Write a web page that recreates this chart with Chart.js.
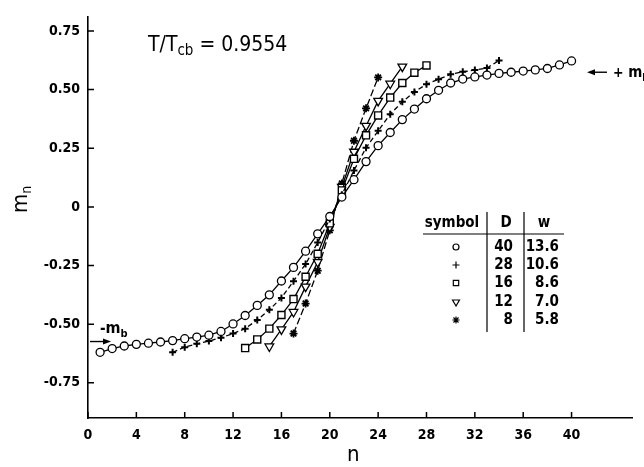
<!DOCTYPE html>
<html>
<head>
<meta charset="utf-8">
<script src="https://cdn.jsdelivr.net/npm/chart.js"></script>
<style>
  body { margin: 0; background: #fff; }
  #chart { display: block; }
</style>
</head>
<body>
<canvas id="chart" width="644" height="467"></canvas>
<script>
// values (layer index n, magnetisation m_n)
const nD40 = [1, 2, 3, 4, 5, 6, 7, 8, 9, 10, 11, 12, 13, 14, 15, 16, 17, 18, 19, 20,
  21, 22, 23, 24, 25, 26, 27, 28, 29, 30, 31, 32, 33, 34, 35, 36, 37, 38, 39, 40];
const mD40 = [-0.620, -0.604, -0.593, -0.586, -0.581, -0.576, -0.570, -0.562, -0.555, -0.547,
  -0.531, -0.499, -0.463, -0.420, -0.375, -0.316, -0.258, -0.189, -0.115, -0.041,
  0.042, 0.116, 0.193, 0.261, 0.317, 0.372, 0.417, 0.461, 0.497, 0.528,
  0.545, 0.554, 0.562, 0.569, 0.574, 0.579, 0.584, 0.590, 0.605, 0.622];

const nD28 = [7, 8, 9, 10, 11, 12, 13, 14, 15, 16, 17, 18, 19, 20,
  21, 22, 23, 24, 25, 26, 27, 28, 29, 30, 31, 32, 33, 34];
const mD28 = [-0.620, -0.598, -0.584, -0.572, -0.558, -0.540, -0.519, -0.482, -0.439, -0.388,
  -0.317, -0.244, -0.152, -0.052, 0.052, 0.155, 0.252, 0.324, 0.395, 0.448,
  0.490, 0.523, 0.544, 0.565, 0.576, 0.583, 0.592, 0.624];

const nD16 = [13, 14, 15, 16, 17, 18, 19, 20, 21, 22, 23, 24, 25, 26, 27, 28];
const mD16 = [-0.602, -0.565, -0.519, -0.461, -0.393, -0.298, -0.200, -0.070,
  0.070, 0.205, 0.305, 0.390, 0.466, 0.528, 0.572, 0.603];

const nD12 = [15, 16, 17, 18, 19, 20, 21, 22, 23, 24, 25, 26];
const mD12 = [-0.595, -0.522, -0.448, -0.340, -0.235, -0.085,
  0.085, 0.235, 0.345, 0.452, 0.525, 0.598];

const nD8 = [17, 18, 19, 20, 21, 22, 23, 24];
const mD8 = [-0.540, -0.412, -0.272, -0.100, 0.100, 0.282, 0.420, 0.552];

const tableD = ['40', '28', '16', '12', '8'];
const tableW = ['13.6', '10.6', '8.6', '7.0', '5.8'];

const xTicks = [0, 4, 8, 12, 16, 20, 24, 28, 32, 36, 40];
const yTicks = [-0.75, -0.5, -0.25, 0, 0.25, 0.5, 0.75];
const yTickLabels = ['-0.75', '-0.50', '-0.25', '0', '0.25', '0.50', '0.75'];
const mBulk = 0.574;

const FONT = '"DejaVu Sans Condensed", "DejaVu Sans", sans-serif';

function pts(ns, ms) {
  return ns.map((n, i) => ({ x: n, y: ms[i] }));
}

// marker look for each series; legendRadius is for the little table
const styles = [
  { pointStyle: 'circle', radius: 4, legendRadius: 3, rotation: 0, borderWidth: 1.3, dash: [] },
  { pointStyle: 'cross', radius: 3.5, legendRadius: 3.5, rotation: 0, borderWidth: 2, dash: [5, 3] },
  { pointStyle: 'rect', radius: 5, legendRadius: 3.8, rotation: 0, borderWidth: 1.4, dash: [] },
  { pointStyle: 'triangle', radius: 5, legendRadius: 4, rotation: 180, borderWidth: 1.3, dash: [] },
  { pointStyle: 'star', radius: 4, legendRadius: 3.6, rotation: 0, borderWidth: 1.8, dash: [7, 3] }
];
const seriesData = [pts(nD40, mD40), pts(nD28, mD28), pts(nD16, mD16), pts(nD12, mD12), pts(nD8, mD8)];

const datasets = seriesData.map((d, i) => ({
  label: 'D=' + tableD[i],
  data: d,
  showLine: true,
  borderColor: '#000',
  borderWidth: 1.3,
  borderDash: styles[i].dash,
  backgroundColor: '#fff',
  pointStyle: styles[i].pointStyle,
  pointRadius: styles[i].radius,
  pointRotation: styles[i].rotation,
  pointBorderWidth: styles[i].borderWidth,
  pointBorderColor: '#000',
  pointBackgroundColor: '#fff',
  tension: 0
}));

function subText(ctx, parts, x, y, weight) {
  // parts: [text, size, dy]
  let cx = x;
  parts.forEach(p => {
    ctx.font = (weight || 'normal') + ' ' + p[1] + 'px ' + FONT;
    ctx.fillText(p[0], cx, y + p[2]);
    cx += ctx.measureText(p[0]).width;
  });
}

function arrow(ctx, x1, x2, y) {
  // line from x1 to x2, head at x2
  const dir = x2 > x1 ? 1 : -1;
  ctx.beginPath();
  ctx.moveTo(x1, y);
  ctx.lineTo(x2 - dir * 6, y);
  ctx.stroke();
  ctx.beginPath();
  ctx.moveTo(x2, y);
  ctx.lineTo(x2 - dir * 8, y - 3);
  ctx.lineTo(x2 - dir * 8, y + 3);
  ctx.closePath();
  ctx.fill();
}

const decor = {
  id: 'decor',
  afterDraw(chart) {
    const ctx = chart.ctx;
    const xs = chart.scales.x, ys = chart.scales.y;
    const area = chart.chartArea;
    ctx.save();
    ctx.strokeStyle = '#000';
    ctx.fillStyle = '#000';
    ctx.lineWidth = 1.5;
    ctx.setLineDash([]);

    // inward tick marks
    ctx.beginPath();
    yTicks.forEach(v => {
      const y = ys.getPixelForValue(v);
      ctx.moveTo(area.left, y);
      ctx.lineTo(area.left + 6, y);
    });
    xTicks.forEach(v => {
      const x = xs.getPixelForValue(v);
      ctx.moveTo(x, area.bottom);
      ctx.lineTo(x, area.bottom - 6);
    });
    ctx.stroke();

    // axis titles
    ctx.textBaseline = 'alphabetic';
    ctx.textAlign = 'left';
    ctx.font = '22px ' + FONT;
    ctx.fillText('n', 347, 461);
    ctx.save();
    ctx.translate(27, 213);
    ctx.rotate(-Math.PI / 2);
    subText(ctx, [['m', 22, 0], ['n', 14, 4]], 0, 0);
    ctx.restore();

    // temperature label
    subText(ctx, [['T/T', 21, 0], ['cb', 15, 4], [' = 0.9554', 21, 0]], 148, 51);

    // bulk magnetisation arrows
    ctx.lineWidth = 1.4;
    const yNeg = ys.getPixelForValue(-mBulk);
    const yPos = ys.getPixelForValue(mBulk);
    arrow(ctx, 90, 111, yNeg);
    subText(ctx, [['-', 15, 0], ['m', 16, 0], ['b', 11, 4]], 100, yNeg - 9, 'bold');
    arrow(ctx, 607, 587, yPos);
    subText(ctx, [['+', 14, 0], [' m', 15, 0], ['b', 10, 4]], 613, yPos + 5, 'bold');

    // symbol table
    ctx.lineWidth = 1.2;
    ctx.beginPath();
    ctx.moveTo(423, 234); ctx.lineTo(564, 234);
    ctx.moveTo(487, 212); ctx.lineTo(487, 332);
    ctx.moveTo(524, 212); ctx.lineTo(524, 332);
    ctx.stroke();
    ctx.font = 'bold 15px ' + FONT;
    ctx.textBaseline = 'middle';
    ctx.textAlign = 'center';
    ctx.fillText('symbol', 452, 223);
    ctx.fillText('D', 506, 223);
    ctx.fillText('w', 544, 223);
    const rowY = [247, 265, 283, 302, 320];
    rowY.forEach((y, i) => {
      ctx.textAlign = 'right';
      ctx.fillText(tableD[i], 513, y);
      ctx.fillText(tableW[i], 559, y);
      const st = styles[i];
      ctx.fillStyle = '#fff';
      Chart.helpers.drawPoint(ctx, {
        pointStyle: st.pointStyle,
        radius: st.legendRadius,
        rotation: st.rotation,
        borderWidth: st.borderWidth
      }, 456, y);
      ctx.fillStyle = '#000';
    });
    ctx.restore();
  }
};

new Chart(document.getElementById('chart'), {
  type: 'scatter',
  data: { datasets: datasets },
  options: {
    responsive: false,
    animation: false,
    layout: { padding: { top: 5, right: 12, left: 0, bottom: 0 } },
    plugins: { legend: { display: false }, tooltip: { enabled: false } },
    scales: {
      x: {
        type: 'linear',
        min: 0,
        max: 45,
        grid: { display: false, drawTicks: false },
        border: { display: true, color: '#000', width: 1.6 },
        ticks: {
          color: '#000',
          font: { family: FONT, size: 14, weight: 'bold' },
          padding: 9,
          maxRotation: 0
        },
        afterBuildTicks: s => { s.ticks = xTicks.map(v => ({ value: v })); },
        afterFit: s => { s.height = 49; }
      },
      y: {
        type: 'linear',
        min: -0.9,
        max: 0.812,
        grid: { display: false, drawTicks: false },
        border: { display: true, color: '#000', width: 1.6 },
        ticks: {
          color: '#000',
          font: { family: FONT, size: 14, weight: 'bold' },
          padding: 8,
          callback: (v, i) => yTickLabels[i]
        },
        afterBuildTicks: s => { s.ticks = yTicks.map(v => ({ value: v })); },
        afterFit: s => { s.width = 88; }
      }
    }
  },
  plugins: [decor]
});
</script>
</body>
</html>
